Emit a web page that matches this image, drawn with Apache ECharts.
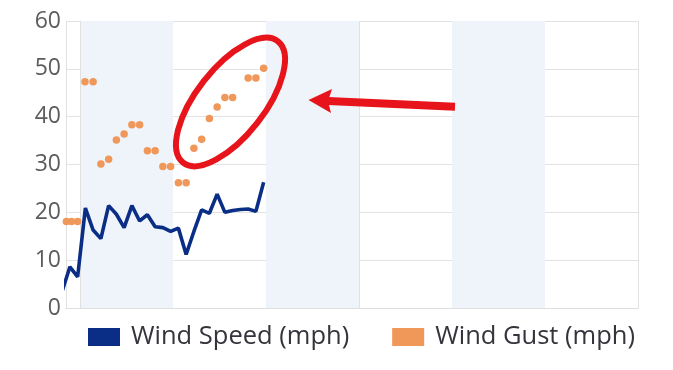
<!DOCTYPE html>
<html>
<head>
<meta charset="utf-8">
<script src="https://cdn.jsdelivr.net/npm/echarts@6/dist/echarts.min.js"></script>
<style>
html,body{margin:0;padding:0;background:#fff;}
#chart{width:673px;height:370px;}
</style>
</head>
<body>
<div id="chart"></div>
<script>
// Hours (relative to band start) and wind speed values (mph)
var speedHours = [-2.3, -1.3, -0.3, 0.7, 1.7, 2.7, 3.7, 4.7, 5.7, 6.7, 7.7, 8.7, 9.7, 10.7, 11.7, 12.7, 13.7, 14.7, 15.7, 16.7, 17.7, 18.7, 19.7, 20.7, 21.7, 22.7, 23.7];
var speedValues = [3.5, 8.6, 6.5, 20.9, 16.3, 14.5, 21.4, 19.6, 16.8, 21.4, 18.2, 19.5, 17.0, 16.8, 16.0, 16.7, 11.2, 16.0, 20.5, 19.8, 23.8, 20.0, 20.4, 20.6, 20.7, 20.2, 26.3];

// Hours and wind gust values (mph)
var gustHours = [-1.75, -1.1, -0.3, 0.65, 1.7, 2.7, 3.7, 4.7, 5.7, 6.7, 7.7, 8.7, 9.7, 10.7, 11.7, 12.7, 13.7, 14.7, 15.7, 16.7, 17.7, 18.7, 19.7, 21.7, 22.7, 23.7];
var gustValues = [18.1, 18.1, 18.1, 47.3, 47.3, 30.1, 31.1, 35.1, 36.4, 38.3, 38.3, 32.9, 32.9, 29.6, 29.6, 26.2, 26.2, 33.4, 35.3, 39.6, 42.0, 44.0, 44.0, 48.1, 48.1, 50.1];

var seriesNames = ['Wind Speed (mph)', 'Wind Gust (mph)'];
var yTicks = [0, 10, 20, 30, 40, 50, 60];

function pairs(xs, ys) {
  return xs.map(function (x, i) { return [x, ys[i]]; });
}

var chart = echarts.init(document.getElementById('chart'), null, {renderer: 'canvas'});

var option = {
  backgroundColor: '#ffffff',
  animation: false,
  grid: {left: 66, right: 35, top: 21, bottom: 62, containLabel: false, outerBoundsMode: 'none'},
  legend: {
    data: seriesNames,
    left: 83,
    top: 319,
    icon: 'rect',
    itemWidth: 32,
    itemHeight: 18,
    itemGap: 43,
    textStyle: {fontFamily: 'Open Sans', fontSize: 25.5, color: '#34343c', padding: [0, 0, 0, 6]}
  },
  xAxis: [{
    type: 'value',
    min: -1.8,
    max: 72,
    minInterval: 12,
    maxInterval: 12,
    axisLabel: {show: false},
    axisTick: {show: false},
    axisLine: {show: true, lineStyle: {color: '#dedede', width: 1}},
    splitLine: {show: false},
    splitArea: {show: true, areaStyle: {color: ['rgba(255,255,255,0)', '#eef4fa']}}
  }, {
    type: 'value',
    position: 'bottom',
    min: -1.8,
    max: 72,
    minInterval: 36,
    maxInterval: 36,
    axisLabel: {show: false},
    axisTick: {show: false},
    axisLine: {show: false},
    splitLine: {show: true, lineStyle: {color: '#e2e2e2', width: 1}},
    splitArea: {show: false}
  }],
  yAxis: {
    type: 'value',
    min: yTicks[0],
    max: yTicks[yTicks.length - 1],
    interval: 10,
    axisLine: {show: true, lineStyle: {color: '#e0e0e0'}},
    axisTick: {show: true, length: 3, lineStyle: {color: '#e0e0e0'}},
    axisLabel: {fontFamily: 'Open Sans', fontSize: 23, color: '#5c5c5c', margin: 5, padding: [6, 0, 0, 0]},
    splitLine: {show: true, lineStyle: {color: '#e2e2e2', width: 1}}
  },
  series: [{
    name: seriesNames[0],
    type: 'line',
    xAxisIndex: 0,
    data: pairs(speedHours, speedValues),
    symbol: 'none',
    clip: true,
    lineStyle: {color: '#0a2e86', width: 3.6},
    itemStyle: {color: '#0a2e86'},
    z: 3
  }, {
    name: seriesNames[1],
    type: 'scatter',
    xAxisIndex: 0,
    data: pairs(gustHours, gustValues),
    symbol: 'circle',
    symbolSize: 7.5,
    clip: false,
    itemStyle: {color: '#f0975a', opacity: 1},
    z: 4
  }],
  graphic: [{
    type: 'ellipse',
    x: 230.5,
    y: 102,
    rotation: 52 * Math.PI / 180,
    shape: {cx: 0, cy: 0, rx: 77, ry: 34},
    style: {fill: 'none', stroke: '#e8141b', lineWidth: 6},
    z: 100
  }, {
    type: 'line',
    shape: {x1: 328, y1: 101, x2: 455, y2: 106.7},
    style: {stroke: '#e8141b', lineWidth: 8},
    z: 100
  }, {
    type: 'polygon',
    shape: {points: [[308.5, 100], [332, 89], [328, 101.3], [331, 113]]},
    style: {fill: '#e8141b'},
    z: 100
  }]
};

chart.setOption(option);
</script>
</body>
</html>
